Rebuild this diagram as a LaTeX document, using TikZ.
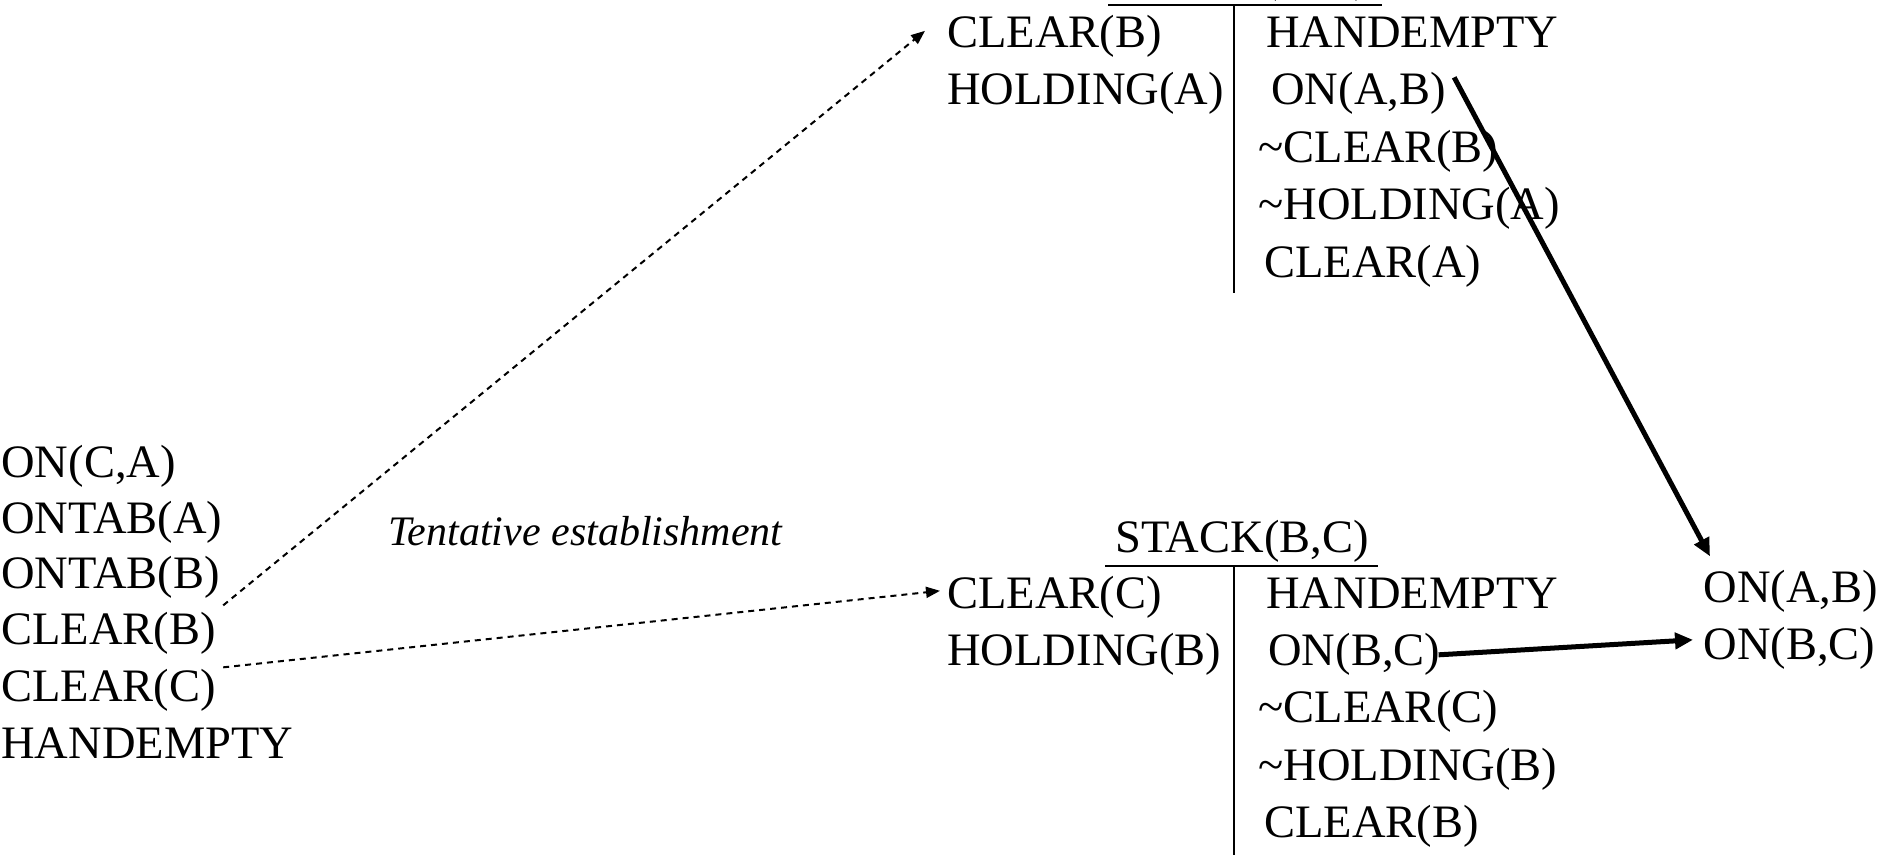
\documentclass[tikz,border=0pt]{standalone}
\usepackage{fontspec}
\setmainfont{Liberation Serif}
\usetikzlibrary{arrows.meta,calc}
\begin{document}
\begin{tikzpicture}[x=0.5pt,y=-0.5pt,
  fact/.style={inner sep=0pt, anchor=base west, font=\fontsize{23.25pt}{23.25pt}\selectfont},
  opname/.style={inner sep=0pt, anchor=base, font=\fontsize{23.25pt}{23.25pt}\selectfont},
  note/.style={inner sep=0pt, anchor=base west, font=\fontsize{21pt}{21pt}\selectfont\itshape},
  bar/.style={line width=1.25pt},
  stem/.style={line width=0.75pt},
  tentative/.style={line width=1pt, dash pattern=on 3pt off 2.5pt, -{Triangle[length=7pt,width=5.5pt]}},
  achieves/.style={line width=2.5pt, -{Triangle[length=9pt,width=8pt]}}
]
\useasboundingbox (0,0) rectangle (1893,858);
\clip (0,0) rectangle (1893,858);

% initial state
\node[fact] (ionca)  at (1,477) {ON(C,A)};
\node[fact] (iontaba) at (1,533) {ONTAB(A)};
\node[fact] (iontabb) at (1,588) {ONTAB(B)};
\node[fact] (iclearb) at (1,644) {CLEAR(B)};
\node[fact] (iclearc) at (1,701) {CLEAR(C)};
\node[fact] (ihand)   at (1,758) {HANDEMPTY};

\node[note] (tent) at (388,545) {Tentative establishment};

% operator STACK(A,B)
\node[opname] (stackab) at (1242,-9) {STACK(A,B)};
\draw[bar]  (1108,5) -- (1382,5);
\draw[stem] (1234,5) -- (1234,293);
\node[fact] (aclearb) at (947,47)    {CLEAR(B)};
\node[fact] (aholda)  at (947,104.5) {HOLDING(A)};
\node[fact] (ahand)   at (1266,47)   {HANDEMPTY};
\node[fact] (aonab)   at (1271,104.5) {ON(A,B)};
\node[fact] (anclb)   at (1258,162)  {\textasciitilde CLEAR(B)};
\node[fact] (anhola)  at (1258,219.5) {\textasciitilde HOLDING(A)};
\node[fact] (aclra)   at (1264,277)  {CLEAR(A)};

% operator STACK(B,C)
\node[opname] (stackbc) at (1242,552) {STACK(B,C)};
\draw[bar]  (1105,566) -- (1378,566);
\draw[stem] (1234,566) -- (1234,855);
\node[fact] (bclearc) at (947,608) {CLEAR(C)};
\node[fact] (bholdb)  at (947,665) {HOLDING(B)};
\node[fact] (bhand)   at (1266,608) {HANDEMPTY};
\node[fact] (bonbc)   at (1268,665) {ON(B,C)};
\node[fact] (bnclc)   at (1258,722) {\textasciitilde CLEAR(C)};
\node[fact] (bnholb)  at (1258,780) {\textasciitilde HOLDING(B)};
\node[fact] (bclrb)   at (1264,837) {CLEAR(B)};

% goal
\node[fact] (gonab) at (1703,602) {ON(A,B)};
\node[fact] (gonbc) at (1703,659) {ON(B,C)};

% links
\draw[tentative] ($(iclearb.north east)+(7,-6)$) -- ($(aclearb.west)+(-22,-5)$);
\draw[tentative] ($(iclearc.north east)+(7,-1)$) -- ($(bclearc.west)+(-7,-6)$);
\draw[achieves] ($(aonab.north east)+(8,5.5)$) -- ($(gonab.north west)+(7,-13)$);
\draw[achieves] ($(bonbc.east)+(-2,1)$) -- ($(gonbc.west)+(-10,-8)$);
\end{tikzpicture}
\end{document}
